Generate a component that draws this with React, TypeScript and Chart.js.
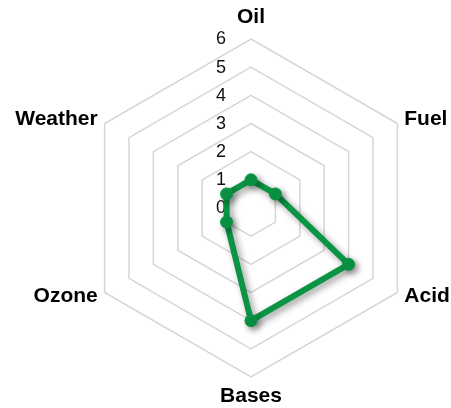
import React, { useEffect, useRef } from 'react';
import { Chart, registerables } from 'chart.js';

Chart.register(...registerables);

const categories = ['Oil', 'Fuel', 'Acid', 'Bases', 'Ozone', 'Weather'];
const seriesValues = [1, 1, 4, 4, 1, 1];
const tickValues = [0, 1, 2, 3, 4, 5, 6];
const tickLabels = ['0', '1', '2', '3', '4', '5', '6'];

const FONT = '"Liberation Sans", Arial, Helvetica, sans-serif';
const GREEN = '#0a9444';

const labelPlugin = {
  id: 'customLabels',
  beforeDatasetsDraw(chart: any) {
    const scale = chart.scales.r;
    const ctx = chart.ctx;
    ctx.save();
    ctx.font = `18px ${FONT}`;
    ctx.fillStyle = '#111111';
    ctx.textAlign = 'center';
    ctx.textBaseline = 'middle';
    tickValues.forEach((v, i) => {
      const d = scale.getDistanceFromCenterForValue(v);
      ctx.fillText(tickLabels[i], scale.xCenter - 30, scale.yCenter - d + 0.5);
    });
    ctx.font = `bold 21px ${FONT}`;
    ctx.fillStyle = '#000000';
    categories.forEach((c, i) => {
      const angle = scale.getIndexAngle(i);
      const deg = Math.round((angle * 180) / Math.PI) % 360;
      let extra = 8;
      let align: CanvasTextAlign = 'center';
      if (deg === 0) extra = 21.5;
      else if (deg === 180) extra = 19;
      else if (deg < 180) align = 'left';
      else align = 'right';
      const p = scale.getPointPosition(i, scale.drawingArea + extra);
      ctx.textAlign = align;
      ctx.fillText(c, p.x, p.y);
    });
    ctx.restore();
  },
};

const shadowPlugin = {
  id: 'lineShadow',
  beforeDatasetDraw(chart: any) {
    const ctx = chart.ctx;
    ctx.save();
    ctx.shadowColor = 'rgba(0,0,0,0.4)';
    ctx.shadowBlur = 7;
    ctx.shadowOffsetX = 3;
    ctx.shadowOffsetY = 3;
  },
  afterDatasetDraw(chart: any) {
    chart.ctx.restore();
  },
};

export default function App() {
  const ref = useRef<HTMLCanvasElement>(null);

  useEffect(() => {
    if (!ref.current) return;
    const chart = new Chart(ref.current, {
      type: 'radar',
      data: {
        labels: categories,
        datasets: [
          {
            data: seriesValues,
            borderColor: GREEN,
            backgroundColor: GREEN,
            borderWidth: 6,
            borderJoinStyle: 'round',
            fill: false,
            pointRadius: 6,
            pointBorderWidth: 1,
            pointBackgroundColor: GREEN,
            pointBorderColor: GREEN,
          } as any,
        ],
      },
      options: {
        responsive: false,
        animation: false,
        devicePixelRatio: 1,
        layout: { padding: { left: 82, right: 31, top: 39, bottom: 31 } },
        plugins: { legend: { display: false }, tooltip: { enabled: false } },
        scales: {
          r: {
            min: 0,
            max: 6,
            ticks: { stepSize: 1, display: false },
            pointLabels: { display: false },
            angleLines: { display: false },
            grid: { color: '#d6d6d6', lineWidth: 1.5 },
          },
        },
      } as any,
      plugins: [labelPlugin, shadowPlugin],
    });
    return () => chart.destroy();
  }, []);

  return (
    <div style={{ position: 'fixed', left: 0, top: 0, width: 451, height: 408, background: '#fff' }}>
      <canvas ref={ref} width={451} height={408} />
    </div>
  );
}
